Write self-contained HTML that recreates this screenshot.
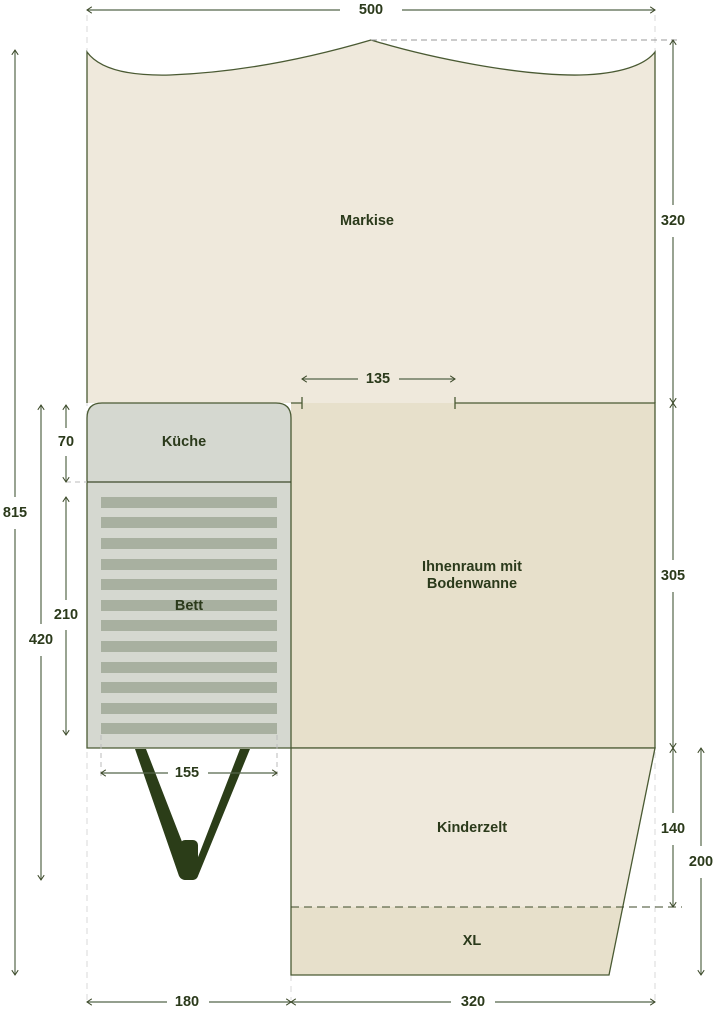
<!DOCTYPE html>
<html><head><meta charset="utf-8"><style>
html,body{margin:0;padding:0;background:#fff;}
svg{display:block}
text{font-family:"Liberation Sans",sans-serif;font-weight:bold;fill:#2b3a1b;font-size:14.5px;text-anchor:middle;dominant-baseline:central}
</style></head><body>
<svg width="722" height="1014" viewBox="0 0 722 1014">
<defs>
<marker id="a" viewBox="0 0 10 10" refX="9" refY="5" markerWidth="8" markerHeight="8" orient="auto-start-reverse" markerUnits="userSpaceOnUse">
<path d="M3,1 L9,5 L3,9" fill="none" stroke="#3d4a2a" stroke-width="1.3"/>
</marker>
</defs>
<g stroke="#d8d8d8" stroke-dasharray="6,5" stroke-width="1">
<line x1="87" y1="15" x2="87" y2="1000"/>
<line x1="655" y1="15" x2="655" y2="1000"/>
<line x1="291" y1="975" x2="291" y2="1000"/>
</g>
<!-- markise -->
<path d="M87,52 C100,70 130,76 170,75 C250,72 320,55 371,40 C430,58 520,76 580,75 C620,74 645,65 655,52 L655,403 L87,403 Z" fill="#efe9dc"/>
<path d="M87,403 L87,52 C100,70 130,76 170,75 C250,72 320,55 371,40 C430,58 520,76 580,75 C620,74 645,65 655,52 L655,403" fill="none" stroke="#4a5a33" stroke-width="1.3"/>
<line x1="371" y1="40" x2="680" y2="40" stroke="#999" stroke-dasharray="6,4"/>
<!-- inner -->
<rect x="291" y="403" width="364" height="345" fill="#e7e0cb"/>
<path d="M291,403 L302,403 M455,403 L655,403 L655,748 L291,748" fill="none" stroke="#4a5a33" stroke-width="1.3"/>
<line x1="302" y1="397" x2="302" y2="409" stroke="#4a5a33" stroke-width="1.3"/>
<line x1="455" y1="397" x2="455" y2="409" stroke="#4a5a33" stroke-width="1.3"/>
<!-- kinderzelt -->
<path d="M291,748 L655,748 L609,975 L291,975 Z" fill="#efe9dc"/>
<path d="M291,907 L623,907 L609,975 L291,975 Z" fill="#e7e0cb"/>
<path d="M291,748 L655,748 L609,975 L291,975 Z" fill="none" stroke="#4a5a33" stroke-width="1.3"/>
<line x1="291" y1="907" x2="682" y2="907" stroke="#3d4a2a" stroke-dasharray="8,5"/>
<!-- kitchen/bed -->
<path d="M87,748 L87,418 Q87,403 102,403 L276,403 Q291,403 291,418 L291,748 Z" fill="#d5d8d0" stroke="#4a5a33" stroke-width="1.3"/>
<line x1="87" y1="482" x2="291" y2="482" stroke="#3d4a2a" stroke-width="1.3"/>
<g fill="#a8b0a0">
<rect x="101" y="497" width="176" height="11"/><rect x="101" y="517" width="176" height="11"/><rect x="101" y="538" width="176" height="11"/><rect x="101" y="559" width="176" height="11"/><rect x="101" y="579" width="176" height="11"/><rect x="101" y="600" width="176" height="11"/><rect x="101" y="620" width="176" height="11"/><rect x="101" y="641" width="176" height="11"/><rect x="101" y="662" width="176" height="11"/><rect x="101" y="682" width="176" height="11"/><rect x="101" y="703" width="176" height="11"/><rect x="101" y="723" width="176" height="11"/>
</g>
<g stroke="#bbb" stroke-dasharray="5,4"><line x1="101" y1="735" x2="101" y2="780"/><line x1="277" y1="735" x2="277" y2="780"/><line x1="66" y1="482" x2="87" y2="482"/></g>
<!-- V -->
<path d="M135,749 L146,749 L193,870 L240,749 L250,749 L198,876 Q196,880 191,880 L186,880 Q181,880 179,876 Z" fill="#2b3d18"/>
<rect x="180" y="840" width="18" height="40" rx="5" fill="#2b3d18"/>
<!-- dims -->
<g stroke="#55664a" stroke-width="1.2" fill="none">
<line x1="87" y1="10" x2="340" y2="10" marker-start="url(#a)"/><line x1="402" y1="10" x2="655" y2="10" marker-end="url(#a)"/>
<line x1="673" y1="40" x2="673" y2="205" marker-start="url(#a)"/><line x1="673" y1="237" x2="673" y2="403" marker-end="url(#a)"/>
<line x1="673" y1="403" x2="673" y2="560" marker-start="url(#a)"/><line x1="673" y1="592" x2="673" y2="748" marker-end="url(#a)"/>
<line x1="673" y1="748" x2="673" y2="813" marker-start="url(#a)"/><line x1="673" y1="845" x2="673" y2="907" marker-end="url(#a)"/>
<line x1="701" y1="748" x2="701" y2="846" marker-start="url(#a)"/><line x1="701" y1="878" x2="701" y2="975" marker-end="url(#a)"/>
<line x1="15" y1="50" x2="15" y2="497" marker-start="url(#a)"/><line x1="15" y1="529" x2="15" y2="975" marker-end="url(#a)"/>
<line x1="41" y1="405" x2="41" y2="624" marker-start="url(#a)"/><line x1="41" y1="656" x2="41" y2="880" marker-end="url(#a)"/>
<line x1="66" y1="405" x2="66" y2="428" marker-start="url(#a)"/><line x1="66" y1="456" x2="66" y2="482" marker-end="url(#a)"/>
<line x1="66" y1="497" x2="66" y2="600" marker-start="url(#a)"/><line x1="66" y1="630" x2="66" y2="735" marker-end="url(#a)"/>
<line x1="302" y1="379" x2="358" y2="379" marker-start="url(#a)"/><line x1="399" y1="379" x2="455" y2="379" marker-end="url(#a)"/>
<line x1="101" y1="773" x2="168" y2="773" marker-start="url(#a)"/><line x1="208" y1="773" x2="277" y2="773" marker-end="url(#a)"/>
<line x1="87" y1="1002" x2="167" y2="1002" marker-start="url(#a)"/><line x1="209" y1="1002" x2="291" y2="1002" marker-end="url(#a)"/>
<line x1="291" y1="1002" x2="451" y2="1002" marker-start="url(#a)"/><line x1="495" y1="1002" x2="655" y2="1002" marker-end="url(#a)"/>
</g>
<text x="371" y="10">500</text>
<text x="673" y="221">320</text>
<text x="673" y="576">305</text>
<text x="673" y="829">140</text>
<text x="701" y="862">200</text>
<text x="15" y="513">815</text>
<text x="41" y="640">420</text>
<text x="66" y="442">70</text>
<text x="66" y="615">210</text>
<text x="378" y="379">135</text>
<text x="187" y="773">155</text>
<text x="187" y="1002">180</text>
<text x="473" y="1002">320</text>
<text x="367" y="221">Markise</text>
<text x="184" y="442">Küche</text>
<text x="189" y="606">Bett</text>
<text x="472" y="567">Ihnenraum mit</text>
<text x="472" y="584">Bodenwanne</text>
<text x="472" y="828">Kinderzelt</text>
<text x="472" y="941">XL</text>
</svg>
</body></html>
